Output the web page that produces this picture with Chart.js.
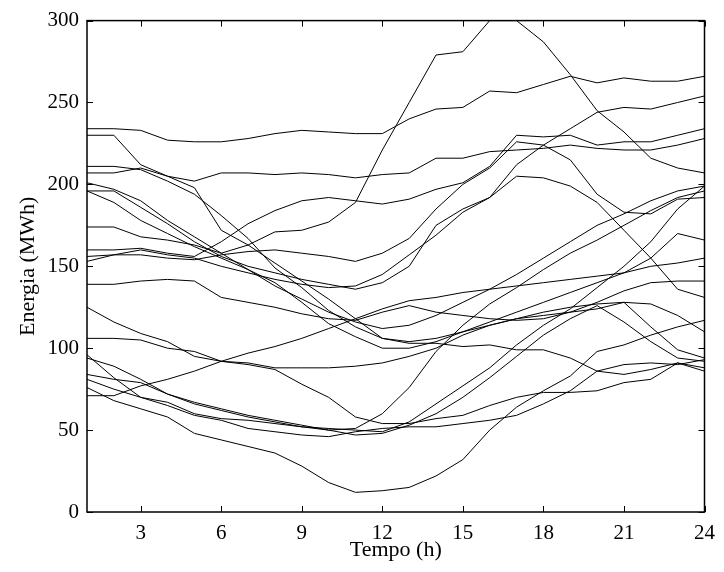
<!DOCTYPE html>
<html>
<head>
<meta charset="utf-8">
<script src="https://cdn.jsdelivr.net/npm/chart.js@4/dist/chart.umd.min.js"></script>
<style>
  html, body { margin: 0; padding: 0; background: #fff; }
  #wrap { width: 724px; height: 572px; }
</style>
</head>
<body>
<div id="wrap"><canvas id="energyChart"></canvas></div>
<script>
// hours on the x axis
var hours = [1,2,3,4,5,6,7,8,9,10,11,12,13,14,15,16,17,18,19,20,21,22,23,24];
var xTicks = [3, 6, 9, 12, 15, 18, 21, 24];
var yTicks = [0, 50, 100, 150, 200, 250, 300];

// daily energy profiles (MWh), one array per curve
var s01 = [234,234,233,227,226,226,228,231,233,232,231,231,240,246,247,257,256,261,266,262,265,263,263,266];
var s02 = [174,174,168,166,163,158,163,171,172,177,189,221,250,279,281,300,300,287,267,245,232,216,210,207];
var s03 = [207,207,210,205,202,207,207,206,207,206,204,206,207,216,216,220,221,222,224,222,221,221,224,228];
var s04 = [160,160,161,158,156,165,176,184,190,192,190,188,191,197,201,211,230,229,230,224,226,226,230,234];
var s05 = [230,230,212,205,198,172,163,152,141,130,118,106,103,103,101,102,99,99,94,86,84,87,91,88];
var s06 = [211,211,209,202,194,181,167,149,137,123,113,106,104,106,110,116,122,128,134,140,146,155,170,166];
var s07 = [156,157,157,155,154,157,159,160,158,156,153,158,167,185,200,210,226,224,215,194,183,182,191,192];
var s08 = [196,189,178,170,162,155,148,140,128,115,107,100,100,104,110,114,118,120,122,124,128,127,120,110];
var s09 = [201,197,190,178,168,158,148,138,130,122,116,112,114,120,128,136,145,155,165,175,182,190,196,199];
var s10 = [139,139,141,142,141,131,128,125,121,118,117,122,126,122,120,118,117,118,122,128,135,140,141,141];
var s11 = [125,116,109,104,95,92,91,88,88,88,89,91,95,100,108,114,118,122,125,127,128,113,99,94];
var s12 = [106,106,105,100,98,92,90,87,78,70,58,54,54,57,59,65,70,73,73,74,79,81,91,86];
var s13 = [71,71,77,81,86,92,97,101,106,112,118,124,129,131,134,136,138,140,142,144,146,150,152,155];
var s14 = [96,82,70,67,60,57,56,54,52,51,50,49,55,66,77,88,102,114,124,137,150,165,185,199];
var s15 = [94,89,81,72,67,63,59,56,53,50,51,60,76,98,114,127,137,148,158,166,175,184,192,196];
var s16 = [84,81,79,72,66,62,58,55,52,50,47,48,53,60,70,82,95,108,118,126,116,104,94,92];
var s17 = [81,75,70,65,59,56,51,49,47,46,49,51,52,52,54,56,59,66,74,86,90,91,90,93];
var s18 = [76,68,63,58,48,44,40,36,28,18,12,13,15,22,32,50,64,74,83,98,102,108,113,117];
var s19 = [153,157,160,157,155,150,146,142,139,137,138,145,157,169,183,192,212,224,234,244,247,246,250,254];
var s20 = [196,196,186,176,165,156,150,146,142,139,136,140,150,175,185,192,205,204,199,189,172,155,136,131];

var seriesList = [s01,s02,s03,s04,s05,s06,s07,s08,s09,s10,s11,s12,s13,s14,s15,s16,s17,s18,s19,s20];

var serif = '"Liberation Serif", "Times New Roman", serif';

// box round the plot with inward ticks on all four sides
var framePlugin = {
    id: 'frame',
    afterDraw: function(chart) {
        var a = chart.chartArea, ctx = chart.ctx;
        var xs = chart.scales.x, ys = chart.scales.y;
        var len = 6;
        ctx.save();
        ctx.strokeStyle = '#000';
        ctx.lineWidth = 1;
        ctx.beginPath();
        xTicks.forEach(function(v) {
            var px = Math.round(xs.getPixelForValue(v)) + 0.5;
            ctx.moveTo(px, a.bottom); ctx.lineTo(px, a.bottom - len);
            ctx.moveTo(px, a.top); ctx.lineTo(px, a.top + len);
        });
        yTicks.forEach(function(v) {
            var py = Math.round(ys.getPixelForValue(v)) + 0.5;
            ctx.moveTo(a.left, py); ctx.lineTo(a.left + len, py);
            ctx.moveTo(a.right, py); ctx.lineTo(a.right - len, py);
        });
        ctx.stroke();
        ctx.lineWidth = 1.5;
        ctx.strokeRect(a.left, a.top, a.right - a.left, a.bottom - a.top);
        ctx.restore();
    }
};

new Chart(document.getElementById('energyChart').getContext('2d'), {
    type: 'line',
    data: {
        labels: hours,
        datasets: seriesList.map(function(s) {
            return {
                data: s.map(function(v, i) { return {x: hours[i], y: v}; }),
                borderColor: '#000',
                borderWidth: 1,
                pointRadius: 0,
                tension: 0,
                fill: false
            };
        })
    },
    options: {
        responsive: true,
        maintainAspectRatio: false,
        animation: false,
        layout: { padding: { left: 0, right: 16, top: 17, bottom: 0 } },
        plugins: { legend: { display: false }, tooltip: { enabled: false } },
        scales: {
            x: {
                type: 'linear',
                min: 1,
                max: 24,
                afterBuildTicks: function(s) { s.ticks = xTicks.map(function(v) { return {value: v}; }); },
                afterFit: function(s) { s.height = 60; },
                grid: { display: false, drawTicks: false },
                border: { display: false },
                ticks: { color: '#000', padding: 9, maxRotation: 0, autoSkip: false, font: { family: serif, size: 21 } },
                title: { display: true, text: 'Tempo (h)', color: '#000', padding: { top: 0, bottom: 9 }, font: { family: serif, size: 22 } }
            },
            y: {
                min: 0,
                max: 300,
                afterBuildTicks: function(s) { s.ticks = yTicks.map(function(v) { return {value: v}; }); },
                afterFit: function(s) { s.width = 87; },
                grid: { display: false, drawTicks: false },
                border: { display: false },
                ticks: { color: '#000', padding: 8, font: { family: serif, size: 21 } },
                title: { display: true, text: 'Energia (MWh)', color: '#000', padding: { top: 15, bottom: 0 }, font: { family: serif, size: 22 } }
            }
        }
    },
    plugins: [framePlugin]
});
</script>
</body>
</html>
